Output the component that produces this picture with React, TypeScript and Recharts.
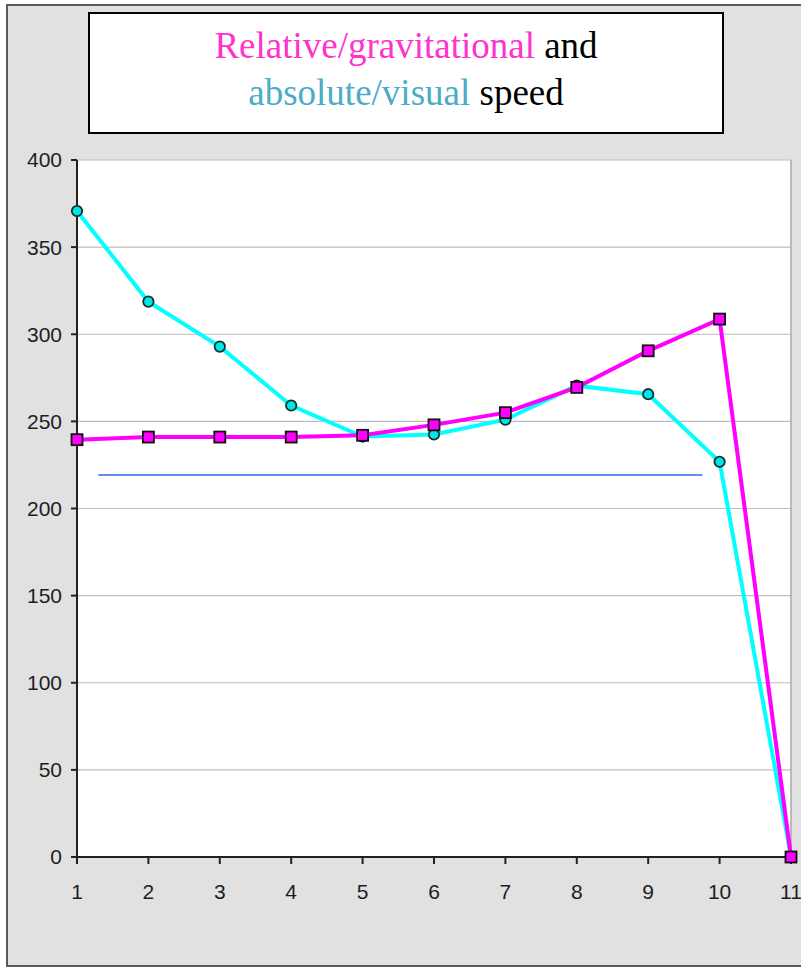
import React from "react";
import {
  LineChart,
  Line,
  XAxis,
  YAxis,
  CartesianGrid,
  ReferenceLine,
} from "recharts";

const positions = [1, 2, 3, 4, 5, 6, 7, 8, 9, 10, 11];
const gravitational = [239.5, 241, 241, 241, 242, 248, 255, 269.5, 290.5, 308.7, 0];
const visual = [370.7, 318.7, 292.9, 259.1, 241.3, 242.5, 251, 270.5, 265.6, 226.8, 0];
const yTicks = [0, 50, 100, 150, 200, 250, 300, 350, 400];
const referenceLevel = 219.2;
const referenceStart = 1.3;
const referenceEnd = 9.76;

const data = positions.map((p, i) => ({
  pos: p,
  gravitational: gravitational[i],
  visual: visual[i],
}));

const SquareDot = (props: any) => {
  const { cx, cy } = props;
  if (cx == null || cy == null) return null;
  return (
    <rect
      x={cx - 5.5}
      y={cy - 5.5}
      width={11}
      height={11}
      fill="#ff00ff"
      stroke="#111"
      strokeWidth={1.8}
    />
  );
};

const tickStyle = {
  fill: "#1e1e1e",
  fontSize: 21,
  fontFamily: "Liberation Sans, Arial, sans-serif",
};

export default function App() {
  return (
    <div
      style={{
        position: "fixed",
        left: 0,
        top: 0,
        width: 801,
        height: 971,
        overflow: "hidden",
        background: "#fff",
      }}
    >
      <div
        style={{
          position: "absolute",
          left: 6,
          top: 4,
          width: 820,
          height: 963,
          background: "#e1e1e1",
          border: "2px solid #5a5a5a",
          boxSizing: "border-box",
        }}
      />
      <div style={{ position: "absolute", left: 0, top: 0 }}>
        <LineChart
          width={801}
          height={971}
          data={data}
          margin={{ top: 160, right: 10, bottom: 84, left: 17 }}
        >
          <CartesianGrid
            vertical={false}
            stroke="#bdbdbd"
            strokeWidth={1.2}
            fill="#ffffff"
            fillOpacity={1}
          />
          <XAxis
            dataKey="pos"
            type="number"
            domain={[1, 11]}
            ticks={positions}
            interval={0}
            height={30}
            axisLine={{ stroke: "#222", strokeWidth: 2 }}
            tickLine={{ stroke: "#222", strokeWidth: 2 }}
            tickSize={7}
            tickMargin={20}
            tick={tickStyle}
          />
          <YAxis
            type="number"
            domain={[0, 400]}
            ticks={yTicks}
            interval={0}
            width={60}
            axisLine={{ stroke: "#222", strokeWidth: 2 }}
            tickLine={{ stroke: "#222", strokeWidth: 2 }}
            tickSize={6}
            tickMargin={9}
            tick={tickStyle}
          />
          <ReferenceLine x={11} stroke="#a8a8a8" strokeWidth={1.5} />
          <ReferenceLine
            segment={[
              { x: referenceStart, y: referenceLevel },
              { x: referenceEnd, y: referenceLevel },
            ]}
            stroke="#3366ee"
            strokeWidth={1.5}
            ifOverflow="visible"
          />
          <Line
            type="linear"
            dataKey="visual"
            stroke="#00ffff"
            strokeWidth={4}
            dot={{ r: 5.2, fill: "#00e5e5", stroke: "#123030", strokeWidth: 1.8 }}
            isAnimationActive={false}
          />
          <Line
            type="linear"
            dataKey="gravitational"
            stroke="#ff00ff"
            strokeWidth={4}
            dot={<SquareDot />}
            isAnimationActive={false}
          />
        </LineChart>
      </div>
      <div
        style={{
          position: "absolute",
          left: 88,
          top: 12,
          width: 636,
          height: 122,
          border: "2px solid #000",
          boxSizing: "border-box",
          background: "#fff",
          textAlign: "center",
          fontFamily: "Liberation Serif, Times New Roman, serif",
          fontSize: 37,
          lineHeight: "47px",
          paddingTop: 8,
          color: "#000",
        }}
      >
        <div>
          <span style={{ color: "#ff33cc" }}>Relative/gravitational</span> and
        </div>
        <div>
          <span style={{ color: "#4bacc6" }}>absolute/visual</span> speed
        </div>
      </div>
    </div>
  );
}
